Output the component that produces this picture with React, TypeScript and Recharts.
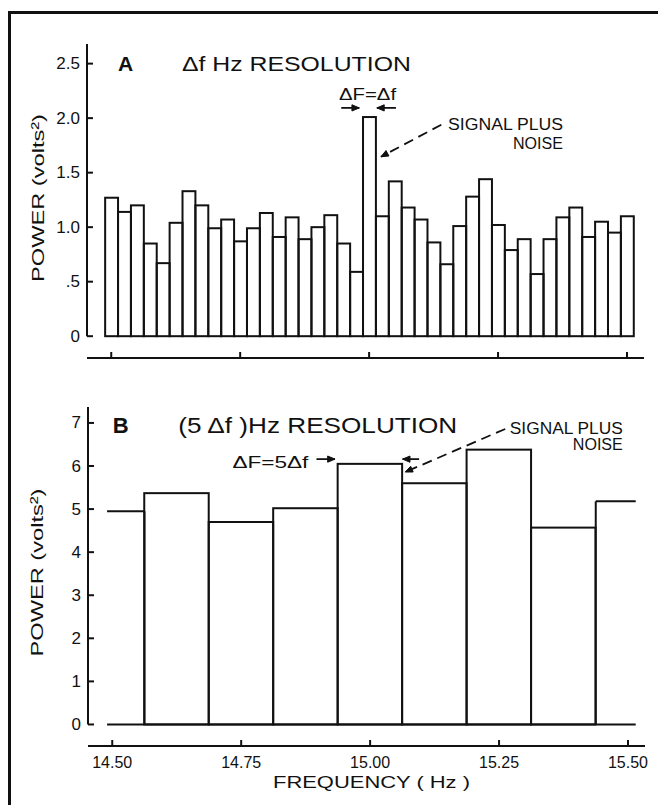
import { ComposedChart, Bar, XAxis, YAxis, ReferenceLine, ReferenceDot } from "recharts";

const FONT = '"Liberation Sans", Arial, sans-serif';
const INK = "#111";

// panel A: one bar per Δf bin
const freqA = [
  14.5, 14.525, 14.55, 14.575, 14.6, 14.625, 14.65, 14.675, 14.7, 14.725,
  14.75, 14.775, 14.8, 14.825, 14.85, 14.875, 14.9, 14.925, 14.95, 14.975,
  15.0, 15.025, 15.05, 15.075, 15.1, 15.125, 15.15, 15.175, 15.2, 15.225,
  15.25, 15.275, 15.3, 15.325, 15.35, 15.375, 15.4, 15.425, 15.45, 15.475, 15.5,
];
const powerA = [
  1.27, 1.14, 1.2, 0.85, 0.67, 1.04, 1.33, 1.2, 0.99, 1.07,
  0.87, 0.99, 1.13, 0.91, 1.09, 0.89, 1.0, 1.11, 0.85, 0.59,
  2.01, 1.1, 1.42, 1.18, 1.07, 0.86, 0.66, 1.01, 1.28, 1.44,
  1.02, 0.79, 0.89, 0.57, 0.89, 1.09, 1.18, 0.91, 1.05, 0.95, 1.1,
];
const binA = 0.025;
const yTicksA = [0, 0.5, 1, 1.5, 2, 2.5];
const yLabelsA = ["0", ".5", "1.0", "1.5", "2.0", "2.5"];

// panel B: 5Δf bins
const freqB = [14.5, 14.625, 14.75, 14.875, 15.0, 15.125, 15.25, 15.375, 15.5];
const powerB = [4.95, 5.37, 4.7, 5.02, 6.05, 5.6, 6.38, 4.57, 5.18];
const binB = 0.125;
const shownB = [14.49, 15.515]; // how far the trace is drawn
const yTicksB = [0, 1, 2, 3, 4, 5, 6, 7];
const yLabelsB = ["0", "1", "2", "3", "4", "5", "6", "7"];

const xTicks = [14.5, 14.75, 15.0, 15.25, 15.5];
const xLabels = ["14.50", "14.75", "15.00", "15.25", "15.50"];

const X_DOMAIN: [number, number] = [14.453, 15.533];
const W = 658;
const PLOT_W = 557;
const pxPerHz = PLOT_W / (X_DOMAIN[1] - X_DOMAIN[0]);

const dataA = freqA.map((f, i) => ({ f, p: powerA[i] }));
const binsB = freqB.map((f, i) => ({
  f,
  p: powerB[i],
  lo: Math.max(f - binB / 2, shownB[0]),
  hi: Math.min(f + binB / 2, shownB[1]),
}));
const fullB = binsB.filter((b) => b.lo === b.f - binB / 2 && b.hi === b.f + binB / 2);
const partB = binsB.filter((b) => !fullB.includes(b));

// outlined bin, full bin width, centred where recharts put the bar
const binShape = (bin: number) => (p: any) => {
  const w = bin * pxPerHz;
  const cx = p.x + p.width / 2;
  return <rect x={cx - w / 2} y={p.y} width={w} height={p.height} fill="none" stroke={INK} strokeWidth={2} />;
};

const yTick = (labels: string[], ticks: number[], margin: number) => (p: any) => {
  const { x, y, payload } = p;
  const i = ticks.indexOf(payload.value);
  return (
    <g>
      <line x1={x + margin} x2={x + margin + 6} y1={y} y2={y} stroke={INK} strokeWidth={2} />
      <text x={x} y={y} textAnchor="end" dominantBaseline="central" fontSize={17} fontFamily={FONT} fill={INK}>
        {labels[i]}
      </text>
    </g>
  );
};

const xTick = (margin: number, showLabels: boolean) => (p: any) => {
  const { x, y, payload } = p;
  const i = xTicks.indexOf(payload.value);
  return (
    <g>
      <line x1={x} x2={x} y1={y - margin} y2={y - margin - 6} stroke={INK} strokeWidth={2} />
      {showLabels && (
        <text x={x} y={y + 6} textAnchor="middle" dominantBaseline="central" fontSize={16} fontFamily={FONT} fill={INK}>
          {xLabels[i]}
        </text>
      )}
    </g>
  );
};

const yTitle = (dx: number, dy: number) => (p: any) => {
  const vb = p.viewBox || {};
  const cx = vb.x + dx;
  const cy = vb.y + vb.height / 2 + dy;
  return (
    <text
      x={cx}
      y={cy}
      transform={`rotate(-90 ${cx} ${cy})`}
      textAnchor="middle"
      dominantBaseline="central"
      fontSize={17}
      fontFamily={FONT}
      fill={INK}
      textLength={168}
      lengthAdjust="spacingAndGlyphs"
    >
      POWER (volts²)
    </text>
  );
};

const xTitle = (p: any) => {
  const vb = p.viewBox || {};
  return (
    <text
      x={vb.x + vb.width / 2 + 5}
      y={vb.y + 36}
      textAnchor="middle"
      dominantBaseline="central"
      fontSize={17}
      fontFamily={FONT}
      fill={INK}
      textLength={197}
      lengthAdjust="spacingAndGlyphs"
    >
      FREQUENCY ( Hz )
    </text>
  );
};

const note = (text: string, anchor: "start" | "middle" | "end", size: number, len?: number, bold = false) => (p: any) => {
  const vb = p.viewBox || {};
  return (
    <text
      x={vb.x}
      y={vb.y}
      textAnchor={anchor}
      dominantBaseline="central"
      fontSize={size}
      fontFamily={FONT}
      fontWeight={bold ? 700 : 400}
      fill={INK}
      textLength={len}
      lengthAdjust={len ? "spacingAndGlyphs" : undefined}
    >
      {text}
    </text>
  );
};

const arrow = (dashed: boolean) => (p: any) => {
  const { x1, y1, x2, y2 } = p;
  const a = Math.atan2(y2 - y1, x2 - x1);
  const L = 8;
  const s = 0.4;
  const ax = x2 - L * Math.cos(a - s);
  const ay = y2 - L * Math.sin(a - s);
  const bx = x2 - L * Math.cos(a + s);
  const by = y2 - L * Math.sin(a + s);
  return (
    <g>
      <line x1={x1} y1={y1} x2={x2} y2={y2} stroke={INK} strokeWidth={1.8} strokeDasharray={dashed ? "10 6" : undefined} />
      <path d={`M${ax},${ay}L${x2},${y2}L${bx},${by}Z`} fill={INK} stroke={INK} strokeWidth={1} />
    </g>
  );
};

function PanelA() {
  return (
    <ComposedChart
      width={W}
      height={400}
      data={dataA}
      margin={{ top: 44, right: 14, bottom: 12, left: 47 }}
      barCategoryGap={0}
      barGap={0}
    >
      <XAxis
        dataKey="f"
        type="number"
        domain={X_DOMAIN}
        allowDataOverflow
        ticks={xTicks}
        interval={0}
        height={30}
        tickSize={0}
        tickMargin={10}
        tickLine={false}
        axisLine={{ stroke: INK, strokeWidth: 2 }}
        tick={xTick(10, false)}
      />
      <YAxis
        type="number"
        domain={[-0.2, 2.68]}
        allowDataOverflow
        ticks={yTicksA}
        interval={0}
        width={40}
        tickSize={0}
        tickMargin={7}
        tickLine={false}
        axisLine={false}
        tick={yTick(yLabelsA, yTicksA, 7)}
        label={yTitle(-9, -3)}
      />
      <ReferenceLine segment={[{ x: X_DOMAIN[0], y: 0 }, { x: X_DOMAIN[0], y: 2.68 }]} stroke={INK} strokeWidth={2} />
      <Bar dataKey="p" barSize={binA * pxPerHz} shape={binShape(binA)} isAnimationActive={false} />

      <ReferenceDot x={14.513} y={2.5} r={0} fill="none" stroke="none" label={note("A", "start", 21, undefined, true)} />
      <ReferenceDot x={14.637} y={2.5} r={0} fill="none" stroke="none" label={note("Δf Hz RESOLUTION", "start", 21, 229)} />
      <ReferenceDot x={14.997} y={2.22} r={0} fill="none" stroke="none" label={note("ΔF=Δf", "middle", 16, 57)} />
      <ReferenceDot x={15.153} y={1.94} r={0} fill="none" stroke="none" label={note("SIGNAL PLUS", "start", 16, 115)} />
      <ReferenceDot x={15.376} y={1.77} r={0} fill="none" stroke="none" label={note("NOISE", "end", 16, 50)} />
      <ReferenceLine segment={[{ x: 14.946, y: 2.094 }, { x: 14.981, y: 2.094 }]} shape={arrow(false)} />
      <ReferenceLine segment={[{ x: 15.052, y: 2.094 }, { x: 15.015, y: 2.094 }]} shape={arrow(false)} />
      <ReferenceLine segment={[{ x: 15.14, y: 1.94 }, { x: 15.023, y: 1.646 }]} shape={arrow(true)} />
    </ComposedChart>
  );
}

function PanelB() {
  return (
    <ComposedChart
      width={W}
      height={425}
      data={fullB}
      margin={{ top: 27, right: 13, bottom: 29, left: 48 }}
      barCategoryGap={0}
      barGap={0}
    >
      <XAxis
        dataKey="f"
        type="number"
        domain={X_DOMAIN}
        allowDataOverflow
        ticks={xTicks}
        interval={0}
        height={30}
        tickSize={0}
        tickMargin={10}
        tickLine={false}
        axisLine={{ stroke: INK, strokeWidth: 2 }}
        tick={xTick(10, true)}
        label={xTitle}
      />
      <YAxis
        type="number"
        domain={[-0.5, 7.37]}
        allowDataOverflow
        ticks={yTicksB}
        interval={0}
        width={40}
        tickSize={0}
        tickMargin={7}
        tickLine={false}
        axisLine={false}
        tick={yTick(yLabelsB, yTicksB, 7)}
        label={yTitle(-11, -4)}
      />
      <ReferenceLine segment={[{ x: X_DOMAIN[0], y: 0 }, { x: X_DOMAIN[0], y: 7.37 }]} stroke={INK} strokeWidth={2} />
      <ReferenceLine segment={[{ x: shownB[0], y: 0 }, { x: shownB[1], y: 0 }]} stroke={INK} strokeWidth={2} />
      {partB.map((b) => (
        <ReferenceLine
          key={`top-${b.f}`}
          segment={[{ x: b.lo, y: b.p }, { x: b.hi, y: b.p }]}
          stroke={INK}
          strokeWidth={2}
        />
      ))}
      {partB.map((b) => {
        // the side of a clipped bin that is a real bin edge
        const edge = b.lo === b.f - binB / 2 ? b.lo : b.hi;
        return (
          <ReferenceLine
            key={`side-${b.f}`}
            segment={[{ x: edge, y: 0 }, { x: edge, y: b.p }]}
            stroke={INK}
            strokeWidth={2}
          />
        );
      })}
      <Bar dataKey="p" barSize={binB * pxPerHz} shape={binShape(binB)} isAnimationActive={false} />

      <ReferenceDot x={14.501} y={6.95} r={0} fill="none" stroke="none" label={note("B", "start", 22, undefined, true)} />
      <ReferenceDot x={14.628} y={6.95} r={0} fill="none" stroke="none" label={note("(5 Δf )Hz RESOLUTION", "start", 22, 279)} />
      <ReferenceDot x={14.733} y={6.09} r={0} fill="none" stroke="none" label={note("ΔF=5Δf", "start", 16, 76)} />
      <ReferenceDot x={15.49} y={6.86} r={0} fill="none" stroke="none" label={note("SIGNAL PLUS", "end", 16, 113)} />
      <ReferenceDot x={15.49} y={6.51} r={0} fill="none" stroke="none" label={note("NOISE", "end", 16, 50)} />
      <ReferenceLine segment={[{ x: 14.896, y: 6.16 }, { x: 14.932, y: 6.16 }]} shape={arrow(false)} />
      <ReferenceLine segment={[{ x: 15.095, y: 6.16 }, { x: 15.063, y: 6.16 }]} shape={arrow(false)} />
      <ReferenceLine segment={[{ x: 15.262, y: 6.86 }, { x: 15.068, y: 5.86 }]} shape={arrow(true)} />
    </ComposedChart>
  );
}

export default function App() {
  return (
    <div
      style={{
        position: "fixed",
        left: 0,
        top: 0,
        width: 658,
        height: 805,
        overflow: "hidden",
        background: "#fff",
        fontFamily: FONT,
      }}
    >
      <div
        style={{
          position: "absolute",
          left: 8,
          top: 11,
          width: 720,
          height: 860,
          borderTop: `3px solid ${INK}`,
          borderLeft: `3px solid ${INK}`,
        }}
      />
      <div style={{ position: "absolute", left: 0, top: 0 }}>
        <PanelA />
      </div>
      <div style={{ position: "absolute", left: 0, top: 380 }}>
        <PanelB />
      </div>
    </div>
  );
}
